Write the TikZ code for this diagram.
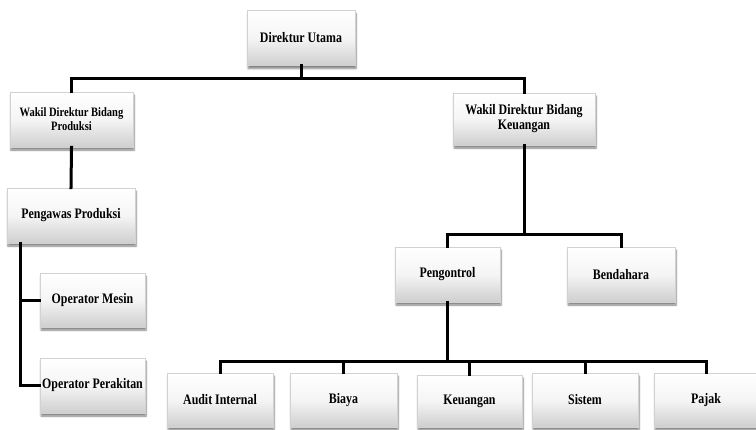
\documentclass[tikz,border=0pt]{standalone}
\usepackage{fontspec}
\setmainfont{Liberation Serif}[FakeStretch=0.82]
\usetikzlibrary{shadows.blur}
\begin{document}
\begin{tikzpicture}[x=1pt,y=-1pt,
  orgbox/.style={rectangle, align=center, inner sep=2pt,
    minimum height=55pt, draw=gray!35, line width=0.6pt,
    top color=white, bottom color=gray!38, middle color=gray!8,
    font=\bfseries\fontsize{14.5}{15}\selectfont,
    blur shadow={shadow xshift=1pt, shadow yshift=-3pt, shadow opacity=50, shadow blur steps=6}},
  link/.style={line width=3pt, line cap=rect}]
\useasboundingbox (0,0) rectangle (756,429);

% boxes
\node[orgbox, minimum width=108pt] (du) at (301,38) {Direktur Utama};
\node[orgbox, minimum width=123pt, font=\bfseries\fontsize{12.8}{14}\selectfont] (wp) at (71.5,119.5) {Wakil Direktur Bidang\\Produksi};
\node[orgbox, minimum width=142pt, minimum height=52pt] (wk) at (524,119) {Wakil Direktur Bidang\\Keuangan};
\node[orgbox, minimum width=128pt] (pp) at (71,215.5) {Pengawas Produksi};
\node[orgbox, minimum width=105pt, minimum height=54pt] (om) at (92.5,300) {Operator Mesin};
\node[orgbox, minimum width=105pt] (op) at (92.5,385.5) {Operator Perakitan};
\node[orgbox, minimum width=105pt] (pg) at (447.5,274.5) {Pengontrol};
\node[orgbox, minimum width=108pt] (bd) at (621,274.5) {Bendahara};
\node[orgbox, minimum width=106pt, minimum height=54pt] (ai) at (220,400) {Audit Internal};
\node[orgbox, minimum width=107pt, minimum height=54pt] (bi) at (343.5,400) {Biaya};
\node[orgbox, minimum width=105pt, minimum height=52pt] (ke) at (469.5,401) {Keuangan};
\node[orgbox, minimum width=106pt, minimum height=54pt] (si) at (585,400) {Sistem};
\node[orgbox, minimum width=104pt, minimum height=54pt] (pj) at (706,400) {Pajak};

% bus junctions
\coordinate (b1) at (301,78);
\coordinate (b2) at (524,234);
\coordinate (b3) at (447.5,361);
\coordinate (sp) at (20,243);

% connectors
\draw[link] (du.south) -- (b1);
\draw[link] (wp.north) |- (b1) -| (wk.north);
\draw[link] (wp.south) -- (pp.north);
\draw[link] (sp) |- (om.west);
\draw[link] (sp) |- (op.west);
\draw[link] (wk.south) -- (b2);
\draw[link] (pg.north) |- (b2) -| (bd.north);
\draw[link] (pg.south) -- (b3);
\draw[link] (ai.north) |- (b3) -| (pj.north);
\draw[link] (bi.north) -- (bi.north |- b3);
\draw[link] (ke.north) -- (ke.north |- b3);
\draw[link] (si.north) -- (si.north |- b3);
\end{tikzpicture}
\end{document}
